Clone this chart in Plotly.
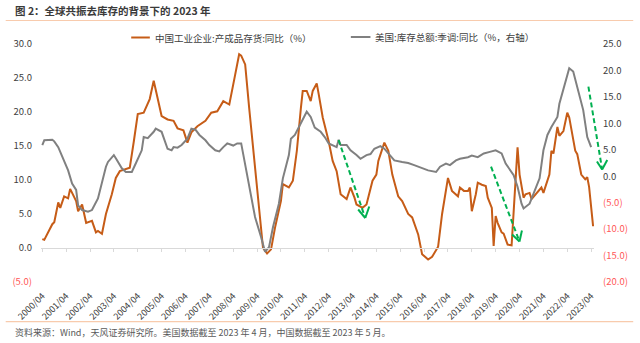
import plotly.graph_objects as go

# ---------------- data ----------------
cn_dates = ["2000-04","2000-05","2000-09","2000-10","2000-12","2001-01","2001-03","2001-05","2001-06","2001-09",
            "2001-10","2001-12","2002-02","2002-05","2002-07","2002-08","2002-10","2002-12","2003-03","2003-05",
            "2003-07","2003-12","2004-02","2004-04","2004-07","2004-10","2004-12","2005-02","2005-04","2005-07",
            "2005-10","2005-12","2006-03","2006-05","2006-07","2006-10","2007-02","2007-05","2007-08","2007-11",
            "2008-02","2008-05","2008-07","2008-08","2008-10","2008-12","2009-03","2009-05","2009-07","2009-09",
            "2009-11","2010-01","2010-04","2010-05","2010-08","2010-10","2010-12","2011-02","2011-03","2011-05",
            "2011-07","2011-08","2011-10","2011-11","2012-01","2012-04","2012-06","2012-08","2012-10","2013-01",
            "2013-03","2013-05","2013-06","2013-09","2013-11","2014-02","2014-04","2014-05","2014-08","2014-10",
            "2014-12","2015-03","2015-05","2015-08","2015-10","2016-01","2016-03","2016-06","2016-08","2016-11",
            "2017-01","2017-04","2017-06","2017-09","2017-10","2017-12","2018-02","2018-03","2018-04","2018-06",
            "2018-07","2018-09","2018-11","2018-12","2019-02","2019-03","2019-04","2019-05","2019-07","2019-08",
            "2019-10","2019-12","2020-01","2020-02","2020-03","2020-04","2020-06","2020-07","2020-09","2020-10",
            "2020-12","2021-03","2021-04","2021-07","2021-08","2021-09","2021-11","2021-12","2022-02","2022-04",
            "2022-05","2022-07","2022-08","2022-09","2022-11","2023-01","2023-02","2023-03","2023-04","2023-05"]
cn_values = [1.3,1.2,3.5,3.8,6.7,5.9,7.6,7.3,8.7,6.9,
             5.4,6.4,3.7,4.0,2.3,2.5,2.1,5.0,7.9,10.3,
             11.3,11.8,15.7,19.7,19.9,21.9,24.6,22.1,19.4,18.9,
             18.7,17.6,17.3,15.5,17.0,17.9,18.7,19.9,20.1,21.6,
             21.1,25.5,28.5,28.3,27.0,20.6,11.8,5.0,0.0,-0.8,
             -0.2,3.0,6.9,9.4,8.9,9.9,14.3,20.6,23.1,23.1,
             21.6,23.1,24.2,22.6,19.2,15.7,12.8,11.3,7.9,7.2,
             8.9,7.4,6.4,5.9,6.4,9.9,10.8,12.8,15.5,14.3,
             10.8,7.6,6.9,5.0,4.5,2.0,-0.9,-1.7,-1.3,0.2,
             5.0,10.3,8.4,7.6,8.9,8.4,8.4,8.9,5.4,7.9,
             9.6,9.3,9.1,7.4,5.9,0.3,4.7,3.7,2.3,2.1,
             0.5,0.4,5.9,10.3,14.8,10.8,7.4,7.9,8.1,7.2,
             7.9,8.9,8.1,10.8,14.3,13.9,17.8,16.5,17.2,19.9,
             19.2,15.7,14.3,13.8,10.8,10.1,10.4,9.0,6.0,3.2]

us_dates = ["2000-04","2000-05","2000-09","2000-10","2000-12","2001-02","2001-05","2001-07","2001-09","2001-10",
            "2001-12","2002-03","2002-05","2002-08","2002-09","2002-12","2003-01","2003-04","2003-05","2003-08",
            "2003-10","2004-01","2004-03","2004-06","2004-07","2004-09","2004-12","2005-01","2005-04","2005-07",
            "2005-09","2005-10","2005-12","2006-02","2006-05","2006-07","2006-09","2006-11","2007-02","2007-04",
            "2007-07","2007-09","2007-11","2008-01","2008-04","2008-06","2008-08","2008-10","2009-01","2009-03",
            "2009-06","2009-08","2009-10","2009-12","2010-03","2010-05","2010-08","2010-09","2010-11","2011-01",
            "2011-02","2011-04","2011-05","2011-07","2011-09","2011-12","2012-02","2012-04","2012-06","2012-08",
            "2012-09","2012-10","2013-01","2013-03","2013-06","2013-08","2013-11","2014-01","2014-03","2014-06",
            "2014-08","2014-11","2015-01","2015-05","2015-08","2015-11","2016-03","2016-06","2016-10","2016-12",
            "2017-03","2017-05","2017-08","2017-10","2018-02","2018-04","2018-07","2018-10","2019-01","2019-04",
            "2019-07","2019-09","2020-01","2020-03","2020-05","2020-06","2020-09","2020-11","2021-02","2021-04",
            "2021-06","2021-08","2021-11","2021-12","2022-02","2022-04","2022-05","2022-07","2022-09","2022-12",
            "2023-02","2023-04"]
us_values = [5.9,6.8,6.9,6.6,5.5,3.6,1.1,-1.4,-2.6,-5.5,
             -6.4,-6.7,-6.4,-4.2,-2.6,1.8,2.7,4.0,3.4,1.5,
             0.8,0.8,2.4,4.9,7.4,7.2,8.4,9.0,8.4,5.2,
             4.9,5.5,5.4,5.9,7.1,9.0,8.8,7.8,6.8,5.9,
             4.9,4.7,5.5,6.2,5.8,6.2,6.2,2.4,-3.3,-7.7,
             -11.5,-14.3,-13.4,-9.6,-5.2,-0.4,4.0,7.1,7.8,9.3,
             9.8,11.2,12.2,11.2,9.2,8.4,7.4,6.2,5.9,5.5,
             6.9,5.9,5.9,4.9,4.0,3.3,4.0,4.2,5.2,5.7,
             5.2,4.0,3.0,2.7,2.5,2.1,1.5,1.1,0.8,1.8,
             2.4,2.1,3.0,3.3,3.6,3.9,3.6,4.3,4.6,4.9,
             4.3,2.4,0.2,-2.0,-5.2,-6.1,-5.2,-3.3,-0.4,4.9,
             7.8,9.3,11.2,13.7,16.3,18.8,20.4,19.8,16.9,12.5,
             7.4,5.5]

tick_years = list(range(2000, 2024))
tick_dates = [f"{y}-04-01" for y in tick_years]
tick_labels = [f"{y}/04" for y in tick_years]

left_ticks = [30, 25, 20, 15, 10, 5, 0, -5]
right_ticks = [25, 20, 15, 10, 5, 0, -5, -10, -15, -20]

series_names = ["中国工业企业:产成品存货:同比（%）", "美国:库存总额:季调:同比（%，右轴）"]
title_text = "图 2：全球共振去库存的背景下的 2023 年"
source_text = "资料来源：Wind，天风证券研究所。美国数据截至 2023 年 4 月，中国数据截至 2023 年 5 月。"

# ---------------- style ----------------
W, H = 640, 343
L, R, T, B = 36, 40, 44, 61
ORANGE = "#C65C17"
GRAY = "#808080"
GREEN = "#00B050"
TXT = "#404040"
NEG = "#FF5757"
SEP = "#F8CBAD"
FONT = "Noto Sans CJK SC, sans-serif"

def fmt(v):
    s = f"{abs(v):.1f}"
    return f"<span style='color:{NEG}'>({s})</span>" if v < 0 else s

def px2paper(px, py):
    return (px - L) / (W - L - R), (H - B - py) / (H - T - B)

fig = go.Figure()
fig.add_trace(go.Scatter(x=cn_dates, y=cn_values, mode="lines", name=series_names[0],
                         line=dict(color=ORANGE, width=2), xaxis="x", yaxis="y", showlegend=False))
fig.add_trace(go.Scatter(x=us_dates, y=us_values, mode="lines", name=series_names[1],
                         line=dict(color=GRAY, width=2), xaxis="x", yaxis="y2", showlegend=False))
# carrier trace for the zero-crossing axis line
fig.add_trace(go.Scatter(x=[tick_dates[0]], y=[None], xaxis="x2", yaxis="y",
                         showlegend=False, hoverinfo="skip"))

xrange = ["2000-03-12", "2023-05-15"]
yl = [-5, 30]
yr = [-20, 25]

shapes = []
annotations = []

# separators
for py in (20.5, 321.7):
    shapes.append(dict(type="line", xref="paper", yref="paper",
                       x0=px2paper(0, py)[0], x1=px2paper(W, py)[0],
                       y0=px2paper(0, py)[1], y1=px2paper(0, py)[1],
                       line=dict(color=SEP, width=1.2)))

# legend (manual)
leg = [(128, 147, 37.5, ORANGE, 150, series_names[0]),
       (352, 372, 37.0, GRAY, 375, series_names[1])]
for x0, x1, py, col, tx, name in leg:
    a = px2paper(x0, py); b = px2paper(x1, py)
    shapes.append(dict(type="line", xref="paper", yref="paper", x0=a[0], y0=a[1], x1=b[0], y1=b[1],
                       line=dict(color=col, width=2)))
    p = px2paper(tx, py)
    annotations.append(dict(text=name, xref="paper", yref="paper", x=p[0], y=p[1],
                            xanchor="left", yanchor="middle", showarrow=False,
                            font=dict(size=9.5, color=TXT, family=FONT)))

# green dashed arrows: (start, tip, arm1, arm2) in pixels
arrows = [((339.5, 140), (366.7, 218), (359.5, 209.5), (370.8, 206.5)),
          ((495, 166.7), (524, 241.5), (516.5, 234.5), (526.5, 230.5)),
          ((594.3, 86.7), (608.3, 169.5), (603.0, 161.5), (613.5, 160.0))]
for s, t, a1, a2 in arrows:
    ps = px2paper(*s); pt = px2paper(*t)
    shapes.append(dict(type="line", xref="paper", yref="paper", x0=ps[0], y0=ps[1], x1=pt[0], y1=pt[1],
                       line=dict(color=GREEN, width=2, dash="5px,3px")))
    for arm in (a1, a2):
        pa = px2paper(*arm)
        shapes.append(dict(type="line", xref="paper", yref="paper", x0=pa[0], y0=pa[1], x1=pt[0], y1=pt[1],
                           line=dict(color=GREEN, width=2)))

# title and source
pt_ = px2paper(7, 10.5)
annotations.append(dict(text="<b>" + title_text + "</b>", xref="paper", yref="paper", x=pt_[0], y=pt_[1],
                        xanchor="left", yanchor="middle", showarrow=False,
                        font=dict(size=10.5, color="#3A3A3A", family=FONT)))
ps_ = px2paper(7, 332)
annotations.append(dict(text=source_text, xref="paper", yref="paper", x=ps_[0], y=ps_[1],
                        xanchor="left", yanchor="middle", showarrow=False,
                        font=dict(size=9, color="#595959", family=FONT)))

fig.update_layout(
    width=W, height=H,
    margin=dict(l=L, r=R, t=T, b=B, pad=0),
    paper_bgcolor="white", plot_bgcolor="white",
    font=dict(family=FONT, size=9, color=TXT),
    xaxis=dict(type="date", range=xrange, tickvals=tick_dates, ticktext=tick_labels,
               tickangle=-45, showgrid=False, showline=False, zeroline=False, ticks="",
               ticklabelstandoff=6, tickfont=dict(size=9, color=TXT), anchor="y"),
    xaxis2=dict(type="date", range=xrange, tickvals=tick_dates, overlaying="x",
                anchor="free", position=(0 - yl[0]) / (yl[1] - yl[0]),
                showticklabels=False, showgrid=False, zeroline=False,
                showline=True, linecolor="#D9D9D9", linewidth=1,
                ticks="outside", ticklen=3, tickcolor="#D9D9D9", tickwidth=1),
    yaxis=dict(range=yl, tickvals=left_ticks, ticktext=[fmt(v) for v in left_ticks],
               showgrid=False, zeroline=False, showline=False, ticks="",
               ticklabelstandoff=8, tickfont=dict(size=9.5, color=TXT)),
    yaxis2=dict(range=yr, tickvals=right_ticks, ticktext=[fmt(v) for v in right_ticks],
                overlaying="y", side="right", showgrid=False, zeroline=False, showline=False,
                ticks="", ticklabelstandoff=8, tickfont=dict(size=9.5, color=TXT)),
    shapes=shapes, annotations=annotations,
)

fig.write_html("out.html")
